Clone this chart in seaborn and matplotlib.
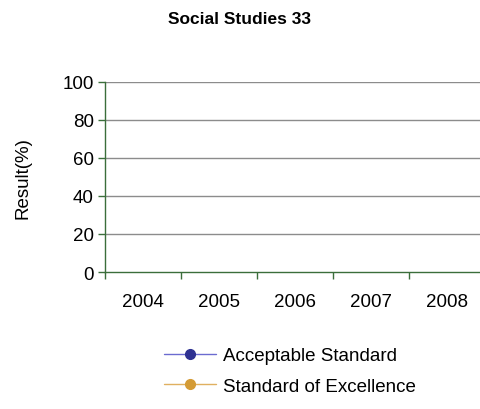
import seaborn as sns
import matplotlib.pyplot as plt
import numpy as np

# data (chart has no values plotted)
years = ["2004", "2005", "2006", "2007", "2008"]
acceptable = [np.nan, np.nan, np.nan, np.nan, np.nan]
excellence = [np.nan, np.nan, np.nan, np.nan, np.nan]
y_ticks = [0, 20, 40, 60, 80, 100]

sns.set_style("white", {"text.color": "black", "axes.labelcolor": "black",
                        "xtick.bottom": True, "ytick.left": True})
plt.rcParams['font.family'] = ['Liberation Sans', 'DejaVu Sans']

fig = plt.figure(figsize=(4.8, 4.1), dpi=100)
ax = fig.add_axes([105 / 480, 1 - 273 / 410, 380 / 480, 190 / 410])

x = np.arange(len(years))
ax.plot(x, acceptable, color="#6b6bd0", lw=1, marker="o", ms=7,
        mfc="#2e3192", mec="#2e3192", label="Acceptable Standard")
ax.plot(x, excellence, color="#e0b060", lw=1, marker="o", ms=7,
        mfc="#d49b35", mec="#d49b35", label="Standard of Excellence")

ax.set_xlim(-0.5, len(years) - 0.5)
ax.set_ylim(0, 100)
ax.set_yticks(y_ticks)
ax.set_xticks(x)
ax.set_xticklabels(years)
ax.set_xticks(np.arange(len(years) + 1) - 0.5, minor=True)

for yv in y_ticks[1:]:
    ax.axhline(yv, color="#8c8c8c", lw=1, zorder=0)

for side in ["top", "right"]:
    ax.spines[side].set_visible(False)
for side in ["left", "bottom"]:
    ax.spines[side].set_color("#3b6e3b")
    ax.spines[side].set_linewidth(1)

ax.tick_params(axis="x", which="major", length=0, pad=15, labelsize=13.5,
               labelcolor="black")
ax.tick_params(axis="x", which="minor", bottom=True, length=5, color="#3b6e3b",
               width=1, direction="out")
ax.tick_params(axis="y", which="major", left=True, length=5, color="#3b6e3b",
               width=1, direction="out", labelsize=13.5, pad=3, labelcolor="black")
ax.tick_params(axis="y", which="minor", left=False)

ax.set_ylabel("Result(%)", fontsize=13.5, labelpad=22)
fig.text(0.5, 1 - 19 / 410, "Social Studies 33", ha="center", va="center",
         fontsize=12.5, fontweight="bold")

fig.legend(loc="center left", bbox_to_anchor=(156 / 480, 1 - 372 / 410),
           frameon=False, fontsize=13.5, handlelength=2.8, handletextpad=0.35,
           labelspacing=0.7, borderaxespad=0)

fig.savefig("out.png", dpi=100)
